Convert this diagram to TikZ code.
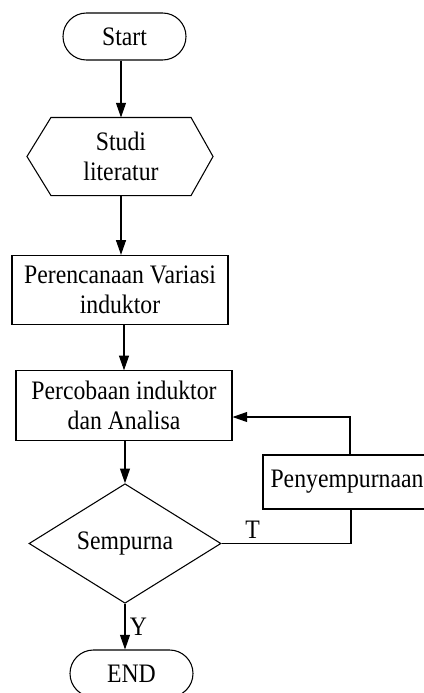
\documentclass[tikz,border=0pt]{standalone}
\usepackage{fontspec}
\setmainfont{Liberation Serif}[FakeStretch=0.89]
\usetikzlibrary{arrows.meta,shapes.geometric}

\begin{document}
\begin{tikzpicture}[x=0.75pt,y=-0.75pt,line width=0.8pt,
        font=\fontsize{20}{22.5}\selectfont,
        term/.style={draw,rectangle,rounded corners=17.6pt,minimum width=92.25pt,minimum height=35.25pt},
        proc/.style={draw,rectangle,align=center,minimum width=162pt,minimum height=52pt,inner sep=2pt},
        decide/.style={draw,diamond,minimum width=144pt,minimum height=72.75pt,inner sep=0pt},
        hexa/.style={minimum width=104.25pt,minimum height=57.75pt,align=center},
        arr/.style={-{Triangle[length=11pt,width=7.5pt]}}]
        \useasboundingbox (0,0) rectangle (424,693);
        \clip (0,0) rectangle (424,693);

        \node[term] (start) at (124.5,36.5) {Start};
        \node[hexa] (studi) at (121,156.5) {Studi\\literatur};
        \draw (studi.north west) -- (studi.north east) -- ([shift={(22,0)}]studi.east)
        -- (studi.south east) -- (studi.south west) -- ([shift={(-24,0)}]studi.west) -- cycle;
        \node[proc] (plan) at (120,290) {Perencanaan Variasi\\induktor};
        \node[proc] (coba) at (124,405.5) {Percobaan induktor\\dan Analisa};
        \node[decide] (cek) at (125,543.5) {Sempurna};
        \node[proc,minimum width=126pt,minimum height=40.5pt] (fix) at (347,482) {Penyempurnaan};
        \node[term] (end) at (131.5,673.5) {END};

        \draw[arr] (studi.north |- start.south) -- (studi.north);
        \draw[arr] (studi.south) -- (studi.south |- plan.north);
        \draw[arr] (coba.north |- plan.south) -- (coba.north);
        \draw[arr] (cek.north |- coba.south) -- (cek.north);
        \draw[arr] (cek.south) -- (cek.south |- end.north) node[midway,right] {Y};
        \draw (cek.east) -| ([shift={(4,0)}]fix.south) node[pos=0.12,above] {T};
        \draw[arr] ([shift={(3,0)}]fix.north) |- ([shift={(0,11.5)}]coba.east);
    \end{tikzpicture}
\end{document}
